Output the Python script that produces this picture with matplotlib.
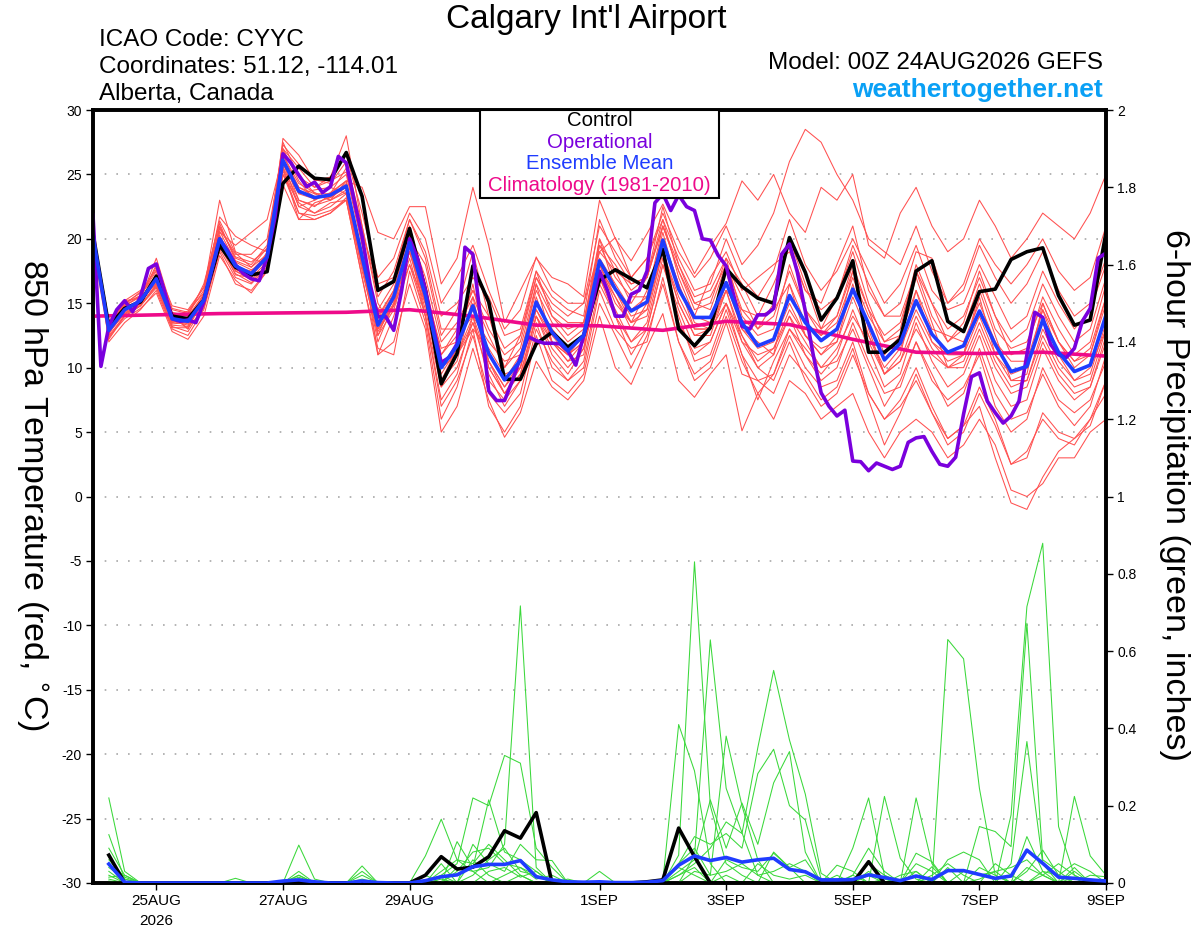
import numpy as np
import pandas as pd
import matplotlib
matplotlib.use("Agg")
import matplotlib.pyplot as plt
from matplotlib.patches import Rectangle

plt.rcParams['font.family'] = ['Liberation Sans', 'DejaVu Sans']

# ---------------- time axes ----------------
times6 = pd.date_range('2026-08-24 00:00', periods=65, freq='6h')
times3 = pd.date_range('2026-08-24 00:00', periods=129, freq='3h')
times_pcp = pd.date_range('2026-08-24 06:00', periods=64, freq='6h')
times_clim = pd.date_range('2026-08-24 00:00', periods=17, freq='D')

tick_dates = pd.to_datetime(['2026-08-25', '2026-08-27', '2026-08-29', '2026-09-01',
                             '2026-09-03', '2026-09-05', '2026-09-07', '2026-09-09'])
tick_labels = ['25AUG\n2026', '27AUG', '29AUG', '1SEP', '3SEP', '5SEP', '7SEP', '9SEP']

# ---------------- 850 hPa temperature (C) ----------------
control_t = [20.4, 13.2, 14.6, 15.1, 17.1, 14.0, 13.8, 15.25, 19.5, 17.8,
             17.2, 17.45, 24.3, 25.65, 24.7, 24.6, 26.7, 23.3, 16.0, 16.7,
             20.8, 16.0, 8.75, 11.1, 17.9, 15.1, 9.1, 9.1, 11.85, 12.75,
             11.6, 12.5, 16.8, 17.6, 16.9, 16.2, 19.2, 13.0, 11.7, 13.1,
             17.7, 16.3, 15.4, 15.0, 20.1, 17.4, 13.7, 15.4, 18.3, 11.2,
             11.2, 12.2, 17.5, 18.3, 13.6, 12.8, 15.9, 16.1, 18.4, 19.0,
             19.3, 15.6, 13.3, 13.7, 20.5]

mean_t = [20.2, 12.9, 14.5, 15.2, 16.9, 13.8, 13.6, 15.25, 20.0, 17.9,
          17.3, 18.6, 26.1, 23.7, 23.2, 23.4, 24.1, 18.6, 13.3, 15.5,
          19.7, 15.6, 10.0, 11.7, 14.8, 11.1, 9.05, 10.55, 15.1, 12.75,
          11.3, 12.5, 18.3, 16.1, 14.4, 15.1, 19.9, 16.1, 13.9, 13.9,
          16.6, 13.5, 11.7, 12.2, 15.6, 13.5, 12.1, 13.0, 16.1, 13.4,
          10.6, 11.9, 15.2, 12.6, 11.2, 11.7, 14.4, 11.8, 9.7, 10.1,
          13.7, 11.2, 9.7, 10.2, 14.1]

oper_t = [21.85, 10.1, 13.2, 14.5, 15.2, 14.35, 15.5, 17.7, 18.05, 16.0,
          13.8, 13.6, 13.7, 13.5, 15.1, 17.6, 20.0, 19.1, 18.0, 17.3,
          16.9, 16.75, 18.6, 21.7, 26.6, 25.9, 24.95, 24.05, 24.4, 23.6,
          24.05, 26.4, 25.9, 23.0, 20.2, 16.5, 13.95, 13.95, 12.9, 16.0,
          20.0, 18.5, 16.0, 13.1, 10.4, 10.8, 11.85, 19.35, 18.8, 13.7,
          8.2, 7.45, 7.45, 9.0, 10.8, 12.4, 12.1, 11.9, 11.9, 11.85,
          11.3, 10.2, 12.5, 14.7, 17.5, 16.0, 14.0, 14.0, 15.7, 16.0,
          17.5, 22.8, 23.5, 22.2, 23.4, 22.5, 22.2, 20.0, 19.9, 18.7,
          17.9, 15.5, 13.2, 13.0, 14.1, 14.1, 14.6, 18.8, 19.6, 17.4,
          14.4, 11.0, 8.05, 7.0, 6.25, 6.7, 2.75, 2.7, 2.0, 2.6,
          2.35, 2.1, 2.35, 4.2, 4.55, 4.65, 3.5, 2.5, 2.35, 3.05,
          6.4, 9.3, 9.6, 7.4, 6.5, 5.7, 6.25, 7.4, 11.0, 14.3,
          13.9, 11.8, 11.0, 10.8, 11.5, 13.6, 14.6, 18.5, 18.9]

clim_t = [14.0, 14.1, 14.2, 14.25, 14.3, 14.5, 14.0, 13.3, 13.25, 12.9,
          13.6, 13.35, 12.2, 11.2, 11.1, 11.2, 10.9]

member_t01 = [20.5, 13.5, 15.0, 15.6, 17.5, 14.2, 13.0, 15.8, 21.0, 18.5,
              18.0, 19.5, 27.0, 24.5, 23.0, 24.0, 25.0, 19.5, 14.0, 16.0,
              20.5, 17.0, 12.0, 13.5, 16.0, 13.0, 11.0, 12.0, 17.0, 15.0,
              14.0, 15.0, 21.0, 19.0, 17.0, 18.5, 22.0, 19.0, 17.0, 18.5,
              21.0, 18.0, 19.5, 22.0, 26.0, 28.5, 27.5, 25.0, 23.0, 20.0,
              19.0, 18.0, 21.0, 17.5, 15.0, 16.0, 19.5, 17.0, 15.0, 16.5,
              19.0, 16.0, 14.0, 15.0, 18.5]
member_t02 = [20.0, 12.5, 14.0, 14.8, 16.5, 13.5, 13.8, 15.0, 19.5, 17.5,
              16.8, 18.0, 25.5, 22.5, 22.0, 22.5, 23.5, 17.5, 12.5, 14.5,
              18.5, 14.0, 7.0, 9.0, 12.5, 8.0, 6.5, 8.0, 13.0, 10.5,
              9.0, 10.0, 16.0, 13.0, 11.5, 12.0, 17.0, 12.0, 9.5, 10.5,
              14.0, 10.5, 8.0, 9.5, 12.5, 10.0, 8.5, 9.0, 12.0, 8.0,
              6.0, 7.5, 10.0, 7.0, 4.5, 5.5, 7.0, 3.0, -0.5, -1.0,
              1.5, 3.5, 4.5, 5.5, 9.0]
member_t03 = [19.8, 13.0, 14.6, 15.3, 18.5, 14.5, 14.2, 16.0, 23.0, 19.0,
              18.5, 18.0, 27.8, 26.5, 24.5, 24.8, 28.0, 21.0, 15.0, 13.0,
              20.0, 18.0, 12.5, 14.5, 19.0, 14.0, 10.0, 11.5, 16.5, 14.0,
              12.5, 13.5, 20.0, 17.5, 15.0, 17.0, 22.5, 18.0, 15.0, 14.5,
              18.0, 15.5, 13.0, 15.0, 20.0, 16.5, 13.0, 15.5, 19.0, 15.0,
              12.0, 13.0, 18.0, 15.0, 12.0, 13.5, 17.5, 14.0, 11.0, 11.5,
              15.5, 13.0, 11.0, 12.0, 16.5]
member_t04 = [21.0, 12.0, 13.5, 14.5, 16.0, 13.0, 12.5, 14.5, 19.0, 16.5,
              16.0, 17.5, 25.0, 22.0, 21.5, 22.0, 23.0, 17.0, 11.5, 11.0,
              17.5, 13.5, 6.0, 8.5, 13.0, 7.0, 5.0, 7.0, 12.5, 9.0,
              8.0, 9.5, 15.0, 12.5, 10.0, 12.5, 16.5, 12.0, 9.0, 10.0,
              13.5, 9.5, 9.0, 8.0, 11.0, 9.5, 7.5, 8.5, 11.5, 7.5,
              4.0, 6.5, 9.5, 6.5, 4.0, 5.0, 8.0, 5.5, 2.5, 3.5,
              6.0, 4.5, 4.0, 6.0, 8.0]
member_t05 = [20.3, 13.2, 15.0, 15.8, 17.0, 14.0, 13.0, 15.5, 20.5, 19.5,
              20.5, 21.5, 26.5, 24.0, 23.5, 23.0, 24.5, 24.0, 20.5, 20.0,
              22.5, 22.5, 16.5, 18.5, 24.0, 19.5, 13.5, 16.0, 18.5, 17.0,
              16.5, 15.5, 23.0, 20.0, 18.3, 20.4, 22.7, 19.9, 17.3, 19.4,
              21.2, 24.5, 23.0, 25.0, 22.0, 20.5, 24.0, 23.0, 25.0, 19.5,
              18.5, 22.0, 24.0, 21.0, 19.0, 20.0, 23.0, 21.0, 18.5, 20.0,
              22.0, 21.0, 20.0, 22.0, 25.0]
member_t06 = [20.0, 12.8, 14.2, 15.0, 17.2, 13.6, 13.3, 15.3, 20.3, 17.5,
              17.0, 19.0, 26.3, 23.0, 22.5, 23.5, 24.5, 18.0, 12.0, 15.0,
              19.0, 14.5, 9.0, 10.5, 15.5, 10.0, 8.0, 10.0, 15.5, 12.0,
              10.5, 12.0, 18.0, 15.0, 13.5, 14.0, 19.0, 15.0, 12.5, 12.5,
              16.0, 12.0, 10.0, 11.0, 14.0, 11.0, 9.5, 11.0, 14.5, 11.5,
              8.5, 9.5, 13.5, 10.5, 8.5, 9.5, 12.5, 9.0, 7.0, 7.5,
              11.5, 9.0, 7.5, 8.5, 12.0]
member_t07 = [20.4, 13.4, 14.8, 15.5, 16.5, 14.1, 14.0, 16.5, 21.2, 18.3,
              17.8, 18.8, 25.8, 23.5, 23.8, 24.0, 23.5, 18.0, 14.5, 16.5,
              21.0, 16.5, 11.0, 12.5, 14.0, 12.0, 10.5, 11.0, 16.0, 13.5,
              12.0, 13.0, 19.5, 17.0, 15.5, 15.5, 21.0, 17.5, 14.5, 15.0,
              18.5, 14.0, 12.5, 13.0, 18.0, 14.5, 13.0, 14.0, 18.0, 14.5,
              11.0, 12.5, 17.0, 13.5, 10.0, 11.0, 16.0, 12.5, 9.0, 9.5,
              15.0, 12.0, 10.0, 11.0, 15.5]
member_t08 = [19.5, 12.2, 14.0, 14.8, 16.2, 13.2, 12.8, 14.8, 19.2, 17.0,
              16.5, 17.8, 25.0, 22.8, 22.0, 22.8, 23.0, 17.8, 12.8, 14.8,
              18.0, 15.0, 8.5, 10.0, 13.5, 9.5, 7.0, 9.0, 14.0, 11.0,
              9.5, 11.5, 17.0, 14.5, 12.0, 13.5, 18.5, 13.5, 11.0, 12.0,
              15.0, 11.0, 7.5, 10.5, 13.0, 11.5, 10.0, 10.5, 13.0, 10.0,
              7.0, 9.0, 12.0, 9.0, 7.5, 8.5, 11.0, 7.0, 5.0, 6.0,
              10.0, 7.5, 6.5, 7.5, 10.5]
member_t09 = [20.6, 13.6, 15.2, 15.4, 18.0, 13.9, 14.4, 15.8, 21.7, 20.2,
              19.5, 19.0, 26.8, 25.0, 23.5, 23.5, 25.5, 20.5, 16.5, 17.0,
              21.5, 19.0, 14.0, 15.0, 17.0, 15.5, 12.5, 13.0, 17.5, 15.5,
              14.5, 14.0, 21.5, 18.5, 16.5, 17.0, 21.5, 18.5, 16.0, 16.5,
              20.0, 17.0, 15.5, 17.5, 21.5, 18.0, 16.0, 17.5, 20.0, 17.5,
              15.0, 16.5, 19.5, 16.0, 14.5, 15.0, 18.0, 15.5, 13.0, 14.0,
              17.5, 15.0, 13.0, 14.5, 18.0]
member_t10 = [19.9, 12.4, 13.8, 14.6, 15.8, 12.8, 12.2, 14.0, 18.7, 16.8,
              15.8, 17.5, 24.2, 21.5, 21.5, 22.0, 23.2, 19.0, 11.0, 12.0,
              16.5, 13.0, 5.0, 7.0, 11.5, 7.5, 4.6, 6.5, 10.5, 8.5,
              7.5, 9.0, 14.0, 10.0, 8.7, 11.6, 14.2, 9.0, 7.7, 9.5,
              11.0, 5.1, 8.0, 6.0, 9.0, 8.0, 6.0, 7.0, 8.0, 5.0,
              3.0, 5.0, 6.0, 5.0, 3.0, 4.0, 6.0, 4.0, 0.5, 0.0,
              1.0, 3.0, 3.0, 5.0, 6.0]
member_t11 = [20.2, 13.0, 14.8, 15.6, 17.8, 14.8, 14.5, 16.2, 20.8, 18.8,
              18.8, 20.0, 27.0, 25.5, 24.0, 24.8, 26.5, 22.0, 17.0, 18.5,
              22.0, 20.0, 15.0, 17.0, 19.5, 16.0, 13.0, 14.5, 18.6, 16.0,
              15.0, 15.0, 19.0, 20.1, 17.0, 18.5, 21.5, 17.0, 14.0, 17.0,
              19.0, 16.0, 17.0, 18.0, 19.0, 16.0, 15.0, 18.0, 21.0, 16.0,
              14.0, 15.0, 19.0, 18.5, 15.0, 16.5, 20.0, 18.0, 16.5, 18.0,
              20.0, 17.5, 16.0, 17.0, 21.0]
member_t12 = [20.1, 12.7, 14.3, 15.0, 16.8, 13.4, 13.5, 15.0, 19.8, 17.2,
              17.0, 18.2, 25.5, 21.5, 22.8, 23.2, 24.0, 19.0, 12.5, 15.5,
              19.5, 15.0, 10.5, 11.0, 13.0, 11.5, 9.5, 10.0, 14.5, 12.5,
              11.0, 12.5, 17.5, 16.0, 14.0, 14.5, 20.0, 16.5, 13.0, 13.0,
              16.5, 13.0, 11.5, 12.0, 15.0, 12.5, 11.5, 12.0, 16.5, 12.5,
              10.0, 11.5, 14.5, 12.0, 11.0, 11.0, 14.0, 11.0, 9.0, 9.0,
              13.0, 10.5, 9.0, 9.5, 13.5]
member_t13 = [20.3, 13.1, 14.6, 15.0, 17.0, 14.0, 13.7, 15.0, 20.0, 18.0,
              17.3, 18.5, 26.2, 24.0, 23.3, 23.2, 24.3, 18.4, 13.8, 16.0,
              20.0, 16.0, 11.5, 12.0, 14.5, 11.0, 9.0, 11.0, 15.0, 13.0,
              11.5, 12.5, 18.5, 16.5, 14.5, 15.5, 20.5, 16.0, 14.0, 13.5,
              16.0, 14.5, 14.0, 14.5, 16.5, 13.5, 12.5, 13.5, 17.0, 14.0,
              12.0, 12.5, 16.0, 13.0, 12.5, 12.0, 15.0, 12.0, 10.5, 10.5,
              14.5, 12.0, 10.5, 11.0, 15.0]
member_t14 = [20.0, 12.9, 14.4, 15.1, 16.6, 13.7, 13.4, 15.4, 20.2, 17.8,
              17.5, 18.8, 26.0, 22.5, 23.0, 23.6, 24.5, 18.8, 13.0, 15.0,
              19.0, 15.0, 9.5, 11.5, 16.5, 10.5, 8.5, 10.5, 16.5, 12.0,
              11.0, 12.0, 20.0, 16.0, 13.5, 16.0, 20.0, 16.5, 13.5, 13.0,
              17.5, 13.0, 12.0, 11.0, 16.5, 12.5, 11.0, 12.5, 17.5, 13.0,
              9.5, 11.0, 16.0, 12.0, 10.5, 11.0, 15.5, 11.0, 9.5, 10.0,
              14.5, 11.0, 9.0, 10.0, 13.0]
member_t15 = [20.5, 12.6, 14.7, 15.2, 17.3, 13.5, 13.9, 15.6, 20.6, 18.2,
              17.6, 18.3, 26.5, 24.3, 23.6, 23.0, 23.8, 18.2, 13.6, 15.8,
              19.5, 14.0, 8.5, 11.0, 13.5, 10.5, 8.0, 9.5, 14.0, 12.0,
              10.5, 11.0, 18.0, 15.5, 13.0, 15.0, 19.0, 15.0, 12.5, 13.0,
              15.0, 12.0, 11.0, 11.5, 14.0, 12.0, 10.0, 11.5, 14.0, 12.0,
              9.5, 10.5, 13.0, 11.0, 10.0, 10.0, 13.0, 10.0, 8.0, 8.5,
              12.0, 9.5, 8.0, 8.5, 12.5]
member_t16 = [19.7, 13.3, 14.9, 15.9, 17.6, 14.3, 14.0, 15.7, 20.9, 18.6,
              18.2, 19.2, 27.3, 25.8, 24.6, 24.3, 26.0, 21.0, 15.5, 17.5,
              21.5, 18.5, 13.0, 13.0, 16.0, 14.0, 11.5, 12.5, 17.0, 14.5,
              13.5, 13.5, 19.5, 18.0, 16.0, 17.0, 21.0, 18.0, 15.5, 16.0,
              18.5, 16.5, 14.0, 16.5, 19.5, 16.0, 14.5, 15.5, 19.5, 16.5,
              14.0, 14.0, 17.5, 15.0, 13.0, 14.0, 17.0, 14.0, 12.0, 13.0,
              16.5, 14.0, 12.0, 13.0, 17.0]
member_t17 = [20.8, 12.3, 14.1, 14.9, 16.3, 13.1, 13.1, 14.6, 19.4, 17.3,
              16.6, 18.0, 25.3, 22.0, 21.8, 22.2, 23.0, 17.0, 11.0, 14.0,
              18.0, 14.0, 7.5, 9.5, 14.0, 9.0, 7.5, 9.0, 13.5, 10.0,
              9.0, 10.5, 16.5, 14.0, 11.0, 13.0, 18.0, 14.0, 10.5, 11.0,
              14.5, 11.0, 9.0, 9.5, 13.0, 11.0, 9.0, 10.0, 13.5, 10.5,
              8.0, 8.5, 12.0, 9.5, 7.0, 8.0, 11.5, 8.0, 6.0, 6.5,
              9.5, 7.0, 5.5, 7.0, 11.0]
member_t18 = [20.2, 13.5, 15.2, 16.0, 17.0, 14.6, 14.3, 16.3, 21.4, 18.9,
              17.8, 19.3, 27.5, 24.8, 24.0, 24.5, 25.2, 19.8, 13.5, 15.2,
              20.3, 16.0, 11.0, 13.0, 15.5, 12.5, 10.0, 12.5, 17.5, 14.0,
              13.0, 13.5, 19.0, 17.5, 16.5, 17.0, 21.0, 17.5, 15.0, 15.5,
              18.0, 14.5, 13.0, 14.0, 17.5, 14.5, 12.5, 14.0, 17.5, 14.5,
              12.5, 13.5, 17.5, 14.0, 12.0, 13.0, 16.5, 13.0, 11.5, 12.0,
              15.0, 12.0, 10.5, 11.5, 15.5]
member_t19 = [19.6, 12.7, 14.2, 14.8, 16.4, 13.3, 13.2, 15.1, 19.9, 17.6,
              17.2, 18.4, 25.6, 23.0, 22.6, 23.0, 23.6, 18.0, 13.0, 14.8,
              19.0, 15.5, 10.0, 11.0, 14.0, 10.5, 8.5, 10.0, 14.5, 12.0,
              11.0, 12.0, 17.5, 15.5, 13.5, 14.5, 19.0, 15.5, 13.0, 13.0,
              16.0, 12.5, 10.5, 11.5, 14.5, 12.5, 11.0, 12.0, 15.5, 12.5,
              9.5, 10.5, 14.0, 11.5, 10.0, 10.5, 13.5, 10.5, 8.5, 9.0,
              12.5, 10.0, 8.5, 9.0, 13.0]
member_t20 = [20.0, 12.8, 14.5, 15.3, 16.8, 13.7, 13.6, 15.2, 20.1, 17.7,
              17.4, 18.7, 26.0, 23.5, 23.1, 23.5, 24.0, 18.5, 13.3, 15.3,
              19.8, 15.0, 9.0, 11.5, 15.0, 10.0, 8.0, 9.5, 14.0, 11.5,
              10.0, 11.5, 17.0, 14.0, 12.0, 13.0, 18.0, 14.5, 11.5, 12.0,
              15.0, 12.5, 10.0, 9.0, 12.0, 9.0, 7.0, 8.0, 11.0, 8.0,
              6.0, 7.0, 9.0, 6.5, 4.5, 5.5, 8.5, 6.0, 2.5, 3.0,
              6.5, 5.0, 4.5, 6.0, 9.0]

members_t = [member_t01, member_t02, member_t03, member_t04, member_t05,
             member_t06, member_t07, member_t08, member_t09, member_t10,
             member_t11, member_t12, member_t13, member_t14, member_t15,
             member_t16, member_t17, member_t18, member_t19, member_t20]

# ---------------- 6-hour precipitation (inches), periods ending 06Z 24AUG .. 00Z 9SEP ----------------
control_p = [0.072, 0, 0, 0, 0, 0, 0, 0, 0, 0,
             0, 0, 0, 0, 0, 0, 0, 0, 0, 0,
             0.02, 0.068, 0.036, 0.041, 0.068, 0.135, 0.116, 0.182, 0, 0,
             0, 0, 0, 0, 0.003, 0.008, 0.142, 0.068, 0, 0,
             0, 0, 0, 0, 0, 0, 0, 0, 0.055, 0,
             0, 0, 0, 0, 0, 0, 0, 0, 0, 0,
             0, 0, 0, 0]
mean_p = [0.049, 0.002, 0, 0, 0, 0, 0, 0, 0, 0,
          0, 0.005, 0.008, 0.003, 0, 0, 0.005, 0.001, 0, 0,
          0.006, 0.016, 0.021, 0.042, 0.048, 0.048, 0.058, 0.016, 0.008, 0.003,
          0.002, 0.003, 0.001, 0.001, 0.002, 0.006, 0.046, 0.07, 0.058, 0.066,
          0.054, 0.06, 0.064, 0.035, 0.029, 0.008, 0.008, 0.009, 0.021, 0.014,
          0.006, 0.018, 0.009, 0.032, 0.032, 0.022, 0.012, 0.018, 0.085, 0.051,
          0.015, 0.012, 0.008, 0.005]

# ensemble members: (period number 1..64, amount) for non-zero periods
member_p01 = [(1, 0.22), (2, 0.03), (13, 0.02), (22, 0.02), (23, 0.05), (24, 0.22), (25, 0.2),
              (26, 0.33), (27, 0.31), (28, 0.09), (29, 0.04), (37, 0.05), (38, 0.09), (39, 0.02),
              (40, 0.38), (41, 0.2), (42, 0.06), (49, 0.02), (54, 0.04), (59, 0.03), (60, 0.085), (61, 0.02)]
member_p02 = [(1, 0.125), (2, 0.01), (17, 0.044), (21, 0.07), (22, 0.165), (23, 0.06), (24, 0.03),
              (25, 0.04), (26, 0.1), (27, 0.717), (28, 0.04), (30, 0.01), (36, 0.005), (37, 0.41),
              (38, 0.29), (39, 0.05), (43, 0.08), (44, 0.04), (52, 0.22), (53, 0.05), (58, 0.05),
              (59, 0.366), (60, 0.05), (62, 0.03)]
member_p03 = [(1, 0.09), (2, 0.02), (13, 0.098), (14, 0.01), (23, 0.107), (24, 0.04), (25, 0.215),
              (26, 0.08), (27, 0.06), (28, 0.03), (37, 0.072), (38, 0.831), (39, 0.2), (40, 0.05),
              (41, 0.02), (48, 0.09), (49, 0.22), (50, 0.02), (56, 0.04), (57, 0.02), (62, 0.224),
              (63, 0.07), (64, 0.02)]
member_p04 = [(1, 0.06), (2, 0.015), (13, 0.03), (17, 0.03), (22, 0.05), (24, 0.1), (25, 0.05),
              (26, 0.03), (27, 0.1), (28, 0.06), (29, 0.058), (38, 0.07), (39, 0.629), (40, 0.245),
              (41, 0.13), (42, 0.02), (50, 0.224), (51, 0.064), (52, 0.01), (54, 0.63), (55, 0.58),
              (56, 0.245), (57, 0.02), (60, 0.02)]
member_p05 = [(1, 0.04), (2, 0.01), (9, 0.012), (17, 0.02), (23, 0.03), (24, 0.08), (25, 0.09),
              (26, 0.05), (27, 0.04), (28, 0.02), (37, 0.02), (38, 0.05), (39, 0.09), (40, 0.158),
              (41, 0.128), (42, 0.35), (43, 0.55), (44, 0.37), (45, 0.23), (46, 0.025), (53, 0.042),
              (58, 0.176), (59, 0.715), (60, 0.879), (61, 0.146), (62, 0.02)]
member_p06 = [(1, 0.03), (13, 0.02), (22, 0.03), (23, 0.06), (24, 0.05), (25, 0.1), (26, 0.06),
              (27, 0.02), (37, 0.05), (38, 0.12), (39, 0.1), (40, 0.128), (41, 0.09), (42, 0.283),
              (43, 0.346), (44, 0.2), (45, 0.163), (46, 0.01), (48, 0.02), (49, 0.09), (50, 0.03),
              (52, 0.077), (53, 0.055), (56, 0.146), (57, 0.133), (58, 0.094), (59, 0.672),
              (60, 0.06), (61, 0.03), (63, 0.02), (64, 0.016)]
member_p07 = [(1, 0.02), (17, 0.01), (22, 0.01), (24, 0.02), (25, 0.06), (26, 0.09), (27, 0.03),
              (28, 0.02), (37, 0.03), (38, 0.06), (39, 0.215), (40, 0.09), (41, 0.207), (42, 0.1),
              (43, 0.259), (44, 0.34), (45, 0.08), (47, 0.046), (48, 0.03), (52, 0.03), (54, 0.06),
              (55, 0.08), (56, 0.06), (59, 0.12), (60, 0.03), (61, 0.02), (62, 0.05), (63, 0.03)]
member_p08 = [(1, 0.015), (2, 0.02), (13, 0.015), (21, 0.02), (23, 0.04), (24, 0.03), (26, 0.02),
              (27, 0.04), (28, 0.01), (29, 0.02), (32, 0.03), (37, 0.02), (38, 0.04), (40, 0.06),
              (41, 0.04), (42, 0.03), (43, 0.077), (44, 0.04), (45, 0.06), (47, 0.02), (49, 0.03),
              (51, 0.02), (52, 0.03), (55, 0.03), (56, 0.02), (57, 0.03), (58, 0.04), (59, 0.06),
              (60, 0.02), (62, 0.015), (63, 0.01)]
member_p09 = [(1, 0.01), (22, 0.02), (24, 0.06), (25, 0.02), (27, 0.02), (38, 0.03), (39, 0.02),
              (40, 0.03), (41, 0.05), (42, 0.02), (43, 0.03), (44, 0.05), (45, 0.03), (48, 0.02),
              (50, 0.01), (53, 0.02), (54, 0.05), (55, 0.02), (57, 0.05), (58, 0.02), (60, 0.03),
              (62, 0.04), (64, 0.01)]
member_p10 = [(1, 0.005), (13, 0.01), (25, 0.03), (26, 0.04), (27, 0.015), (28, 0.03), (36, 0.01),
              (37, 0.04), (38, 0.02), (40, 0.02), (42, 0.05), (43, 0.02), (44, 0.01), (45, 0.02),
              (49, 0.05), (50, 0.02), (52, 0.05), (53, 0.03), (56, 0.01), (57, 0.03), (59, 0.04),
              (60, 0.02), (61, 0.05), (62, 0.02)]

members_p = [member_p01, member_p02, member_p03, member_p04, member_p05,
             member_p06, member_p07, member_p08, member_p09, member_p10]

# ---------------- colours ----------------
C_MEMBER_T = '#ff5050'
C_MEMBER_P = '#3ad83a'
C_CONTROL = '#000000'
C_OPER = '#7a00dd'
C_MEAN = '#1f3cff'
C_CLIM = '#ee0a8a'

# ---------------- figure ----------------
fig = plt.figure(figsize=(12, 9.27), dpi=100)
ax = fig.add_axes([0.0775, 0.0475, 0.8442, 0.8338])
ax2 = ax.twinx()

for m in members_t:
    ax.plot(times6, m, color=C_MEMBER_T, lw=0.75, zorder=2)
ax.plot(times_clim, clim_t, color=C_CLIM, lw=2.6, zorder=4, solid_capstyle='butt')
ax.plot(times6, control_t, color=C_CONTROL, lw=2.6, zorder=5)
ax.plot(times3, oper_t, color=C_OPER, lw=2.6, zorder=6)
ax.plot(times6, mean_t, color=C_MEAN, lw=2.6, zorder=7)

for pairs in members_p:
    vals = np.zeros(len(times_pcp))
    for k, v in pairs:
        vals[k - 1] = v
    ax2.plot(times_pcp, vals, color=C_MEMBER_P, lw=0.75, zorder=2)
ax2.plot(times_pcp, control_p, color=C_CONTROL, lw=2.6, zorder=5)
ax2.plot(times_pcp, mean_p, color=C_MEAN, lw=2.6, zorder=6)

# axes limits / ticks
ax.set_xlim(times6[0], times6[-1])
ax.set_ylim(-30, 30)
ax2.set_ylim(0, 2)
ax.set_yticks(np.arange(-30, 31, 5))
ax.set_yticklabels([str(v) for v in range(-30, 31, 5)], fontsize=10)
ax2.set_yticks(np.arange(0, 2.01, 0.2))
ax2.set_yticklabels(['0', '0.2', '0.4', '0.6', '0.8', '1', '1.2', '1.4', '1.6', '1.8', '2'], fontsize=10)
ax.set_xticks(tick_dates)
ax.set_xticklabels(tick_labels, fontsize=11, linespacing=1.5)

ax.tick_params(axis='y', direction='out', length=5, width=1, pad=3)
ax2.tick_params(axis='y', direction='out', length=5, width=1, pad=3)
ax.tick_params(axis='x', direction='out', length=5, width=1, pad=3)

ax.grid(axis='y', color='#a8a8a8', linestyle=(0, (1, 6)), lw=1.2)
ax.set_axisbelow(True)
for a in (ax, ax2):
    for s in a.spines.values():
        s.set_linewidth(2.6)

# ---------------- header texts ----------------
fig.text(0.4883, 0.9795, "Calgary Int'l Airport", ha='center', va='center', fontsize=24)
fig.text(0.0825, 0.9569, "ICAO Code: CYYC", ha='left', va='center', fontsize=17.5)
fig.text(0.0825, 0.9277, "Coordinates: 51.12, -114.01", ha='left', va='center', fontsize=17.5)
fig.text(0.0825, 0.8986, "Alberta, Canada", ha='left', va='center', fontsize=17.5)
fig.text(0.9192, 0.9320, "Model: 00Z 24AUG2026 GEFS", ha='right', va='center', fontsize=17.5)
fig.text(0.9192, 0.9029, "weathertogether.net", ha='right', va='center', fontsize=19,
         fontweight='bold', color='#0aa0f5')

fig.text(0.026, 0.466, "850 hPa Temperature (red, $^{\\circ}$C)", rotation=270,
         ha='center', va='center', fontsize=24.5)
fig.text(0.979, 0.466, "6-hour Precipitation (green, inches)", rotation=270,
         ha='center', va='center', fontsize=24.5)

# ---------------- legend box ----------------
box = Rectangle((0.4, 0.7864), 0.1992, 0.0949, transform=fig.transFigure,
                facecolor='white', edgecolor='black', lw=1.5, zorder=10)
fig.add_artist(box)
legend_items = [("Control", C_CONTROL), ("Operational", C_OPER),
                ("Ensemble Mean", C_MEAN), ("Climatology (1981-2010)", C_CLIM)]
legend_y = [0.8695, 0.8468, 0.8231, 0.7994]
for (label, col), yy in zip(legend_items, legend_y):
    t = fig.text(0.4996, yy, label, ha='center', va='center', fontsize=14.7, color=col)
    t.set_zorder(11)

fig.savefig('out.png', dpi=100)
